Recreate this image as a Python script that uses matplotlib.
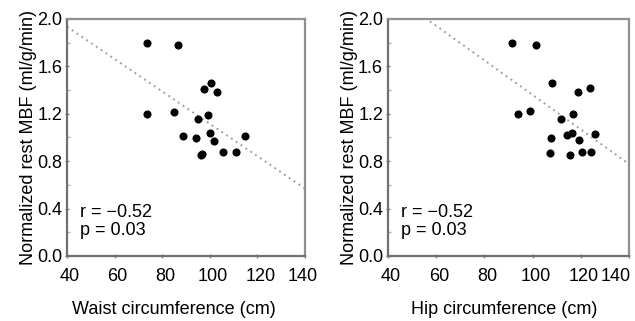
import numpy as np
import matplotlib.pyplot as plt
import matplotlib.transforms as mtransforms
from matplotlib.ticker import MultipleLocator

# Data
waist = [73.5, 86.5, 73.5, 85, 100.4, 97.7, 103, 94.9, 99.2, 88.9, 94.1,
         100.2, 101.8, 96.6, 96.2, 105.7, 111.1, 114.7]
waist_mbf = [1.80, 1.78, 1.20, 1.215, 1.46, 1.41, 1.38, 1.156, 1.19, 1.013,
             0.993, 1.038, 0.968, 0.861, 0.85, 0.878, 0.878, 1.013]

hip = [91.6, 101.4, 93.9, 99.1, 108.2, 118.8, 123.7, 111.9, 116.6, 107.5,
       114.4, 116.5, 119.4, 125.8, 107.1, 115.6, 120.6, 124.4]
hip_mbf = [1.80, 1.78, 1.196, 1.22, 1.46, 1.38, 1.415, 1.16, 1.198, 0.996,
           1.02, 1.035, 0.979, 1.027, 0.869, 0.855, 0.88, 0.88]

# fitted line end points
waist_fit_x = [40, 140]
waist_fit_y = [1.935, 0.57]
hip_fit_x = [57.4, 140]
hip_fit_y = [1.98, 0.776]

stats_text = 'r = \u22120.52\np = 0.03'

plt.rcParams['font.family'] = ['Liberation Sans', 'DejaVu Sans']

fig = plt.figure(figsize=(6.35, 3.21), dpi=100)
ax1 = fig.add_axes([0.1055, 0.2025, 0.3745, 0.7385])
ax2 = fig.add_axes([0.611, 0.2025, 0.3796, 0.7385])

panels = [
    (ax1, waist, waist_mbf, waist_fit_x, waist_fit_y, 'Waist circumference (cm)', 0.45, -2),
    (ax2, hip, hip_mbf, hip_fit_x, hip_fit_y, 'Hip circumference (cm)', 0.482, -13),
]

for ax, x, y, fx, fy, xlabel, label_x, last_shift in panels:
    ax.plot(fx, fy, linestyle=(0, (1, 2)), color='#a0a0a0', lw=1.4, zorder=1)
    ax.scatter(x, y, s=34, color='black', zorder=2, linewidths=0)
    ax.set_xlim(40, 140)
    ax.set_ylim(0, 2.0)
    ax.set_xticks([40, 60, 80, 100, 120, 140])
    ax.set_yticks([0.0, 0.4, 0.8, 1.2, 1.6, 2.0])
    ax.set_yticklabels(['0.0', '0.4', '0.8', '1.2', '1.6', '2.0'])
    ax.yaxis.set_minor_locator(MultipleLocator(0.2))
    ax.tick_params(axis='both', which='major', labelsize=13, length=3,
                   width=1, color='#808080', direction='inout', pad=2)
    ax.tick_params(axis='x', which='major', pad=7)
    ax.tick_params(axis='y', which='minor', length=2, width=1,
                   color='#b0b0b0', direction='in')
    for side in ['left', 'bottom']:
        ax.spines[side].set_color('#707070')
        ax.spines[side].set_linewidth(1.6)
    for side in ['right', 'top']:
        ax.spines[side].set_color('#909090')
        ax.spines[side].set_linewidth(1.6)
    ax.set_xlabel(xlabel, fontsize=13, labelpad=12, x=label_x)
    ax.set_ylabel('Normalized rest MBF (ml/g/min)', fontsize=13, labelpad=0)
    ax.text(0.055, 0.07, stats_text, transform=ax.transAxes, fontsize=13,
            va='bottom', ha='left', linespacing=1.1)
    # small horizontal nudges of the x labels, as in the original
    labels = ax.get_xticklabels()
    for i, lab in enumerate(labels):
        dx = last_shift if i == len(labels) - 1 else 3
        lab.set_transform(lab.get_transform() +
                          mtransforms.ScaledTranslation(dx / 100, 0, fig.dpi_scale_trans))

fig.savefig('out.png', dpi=100)
